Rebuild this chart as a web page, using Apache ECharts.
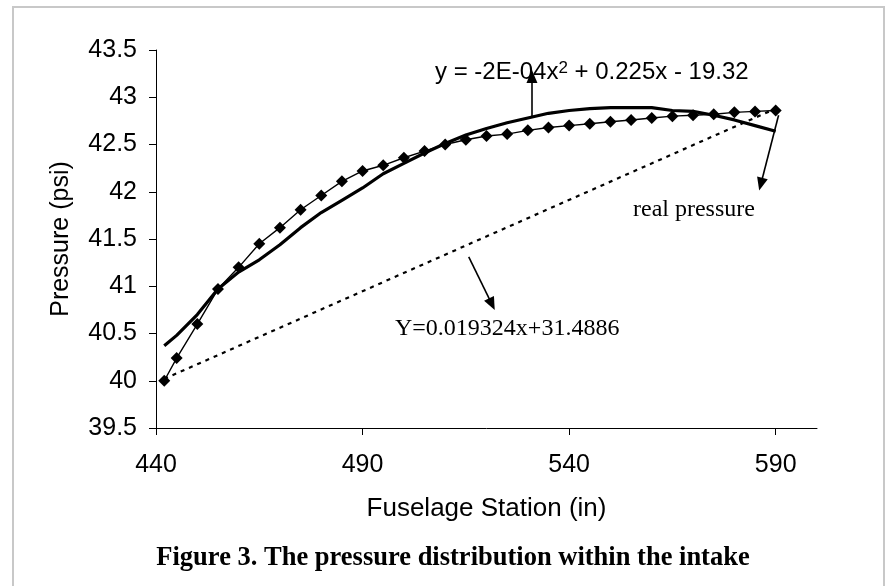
<!DOCTYPE html>
<html>
<head>
<meta charset="utf-8">
<script src="https://cdn.jsdelivr.net/npm/echarts@6/dist/echarts.min.js"></script>
<style>html,body{margin:0;padding:0;background:#fff;}#c{width:895px;height:586px;}</style>
</head>
<body>
<div id="c"></div>
<script>
// ---- data ----
const stations = [442,445,450,455,460,465,470,475,480,485,490,495,500,505,510,515,520,525,530,535,540,545,550,555,560,565,570,575,580,585,590];
const realPressure = [40.00,40.24,40.60,40.97,41.20,41.45,41.62,41.81,41.96,42.11,42.22,42.28,42.36,42.43,42.50,42.55,42.59,42.61,42.65,42.68,42.70,42.72,42.74,42.76,42.78,42.80,42.81,42.82,42.84,42.85,42.86];
const fitPressure = [40.37,40.48,40.70,40.97,41.15,41.28,41.44,41.62,41.78,41.91,42.04,42.19,42.30,42.41,42.51,42.60,42.67,42.73,42.78,42.83,42.86,42.88,42.89,42.89,42.89,42.86,42.85,42.81,42.76,42.70,42.64];
const linearStations = [442, 590];
const linearPressure = [40.02, 42.88];
const xTicks = [440, 490, 540, 590];
const arrowEquation = [[531.0, 42.79], [531.0, 43.22]];
const arrowReal = [[590.7, 42.81], [586.4, 42.08]];
const arrowLinear = [[515.7, 41.31], [521.3, 40.81]];
const equationText = 'y = -2E-04x{sup|2} + 0.225x - 19.32';
const realLabel = 'real pressure';
const linearLabel = 'Y=0.019324x+31.4886';
const titleText = 'Figure 3. The pressure distribution within the intake';

const zip = (xs, ys) => xs.map((x, i) => [x, ys[i]]);
const arrowLine = (a) => [{coord: a[0], symbol: 'none'}, {coord: a[1], symbol: 'triangle'}];

const SANS = 'Liberation Sans, Arial, sans-serif';
const SERIF = 'Liberation Serif, Times New Roman, serif';

const chart = echarts.init(document.getElementById('c'), null, {renderer: 'canvas'});
chart.setOption({
  animation: false,
  backgroundColor: '#fff',
  grid: {left: 156, right: 78, top: 50, bottom: 158},
  xAxis: {
    type: 'value', min: 440, max: 600, interval: 50,
    name: 'Fuselage Station (in)', nameLocation: 'middle', nameGap: 68,
    nameTextStyle: {fontFamily: SANS, fontSize: 26, color: '#000'},
    axisLine: {show: true, lineStyle: {color: '#000', width: 1}},
    axisTick: {show: true, length: 7, customValues: xTicks, lineStyle: {color: '#000'}},
    axisLabel: {customValues: xTicks, margin: 25, fontFamily: SANS, fontSize: 25, color: '#000'},
    splitLine: {show: false}
  },
  yAxis: {
    type: 'value', min: 39.5, max: 43.5, interval: 0.5,
    name: 'Pressure (psi)', nameLocation: 'middle', nameGap: 82,
    nameTextStyle: {fontFamily: SANS, fontSize: 25, color: '#000'},
    axisLine: {show: true, lineStyle: {color: '#000', width: 1}},
    axisTick: {show: true, length: 7, lineStyle: {color: '#000'}},
    axisLabel: {margin: 19, fontFamily: SANS, fontSize: 25, color: '#000'},
    splitLine: {show: false}
  },
  series: [
    {
      name: 'linear', type: 'line', data: zip(linearStations, linearPressure),
      showSymbol: false, symbol: 'none',
      lineStyle: {color: '#000', width: 2.2, type: [4, 5]}, z: 2
    },
    {
      name: 'fit', type: 'line', data: zip(stations, fitPressure),
      showSymbol: false, symbol: 'none',
      lineStyle: {color: '#000', width: 3.2}, z: 3,
      markLine: {
        silent: true, symbolSize: [11, 13], animation: false,
        label: {show: false},
        lineStyle: {color: '#000', width: 1.6, type: 'solid'},
        data: [arrowLine(arrowEquation), arrowLine(arrowReal), arrowLine(arrowLinear)]
      }
    },
    {
      name: 'real', type: 'line', data: zip(stations, realPressure),
      symbol: 'diamond', symbolSize: [12, 12], showAllSymbol: true,
      itemStyle: {color: '#000'},
      lineStyle: {color: '#000', width: 1.4}, z: 4
    }
  ],
  graphic: [
    {type: 'rect', shape: {x: 13, y: 7, width: 871, height: 600}, style: {fill: 'none', stroke: '#c8c8c8', lineWidth: 2}, silent: true, z: -1},
    {type: 'text', left: 435, top: 60, style: {
      text: equationText, fontFamily: SANS, fontSize: 24, fill: '#000',
      rich: {sup: {fontFamily: SANS, fontSize: 17, verticalAlign: 'top', fill: '#000'}}
    }},
    {type: 'text', left: 633, top: 198, style: {text: realLabel, fontFamily: SERIF, fontSize: 24, fill: '#000'}},
    {type: 'text', left: 395, top: 317, style: {text: linearLabel, fontFamily: SERIF, fontSize: 24, fill: '#000'}},
    {type: 'text', x: 453, y: 558, style: {text: titleText, fontFamily: SERIF, fontWeight: 'bold', fontSize: 26.5, fill: '#000', align: 'center', verticalAlign: 'middle'}}
  ]
});
</script>
</body>
</html>
